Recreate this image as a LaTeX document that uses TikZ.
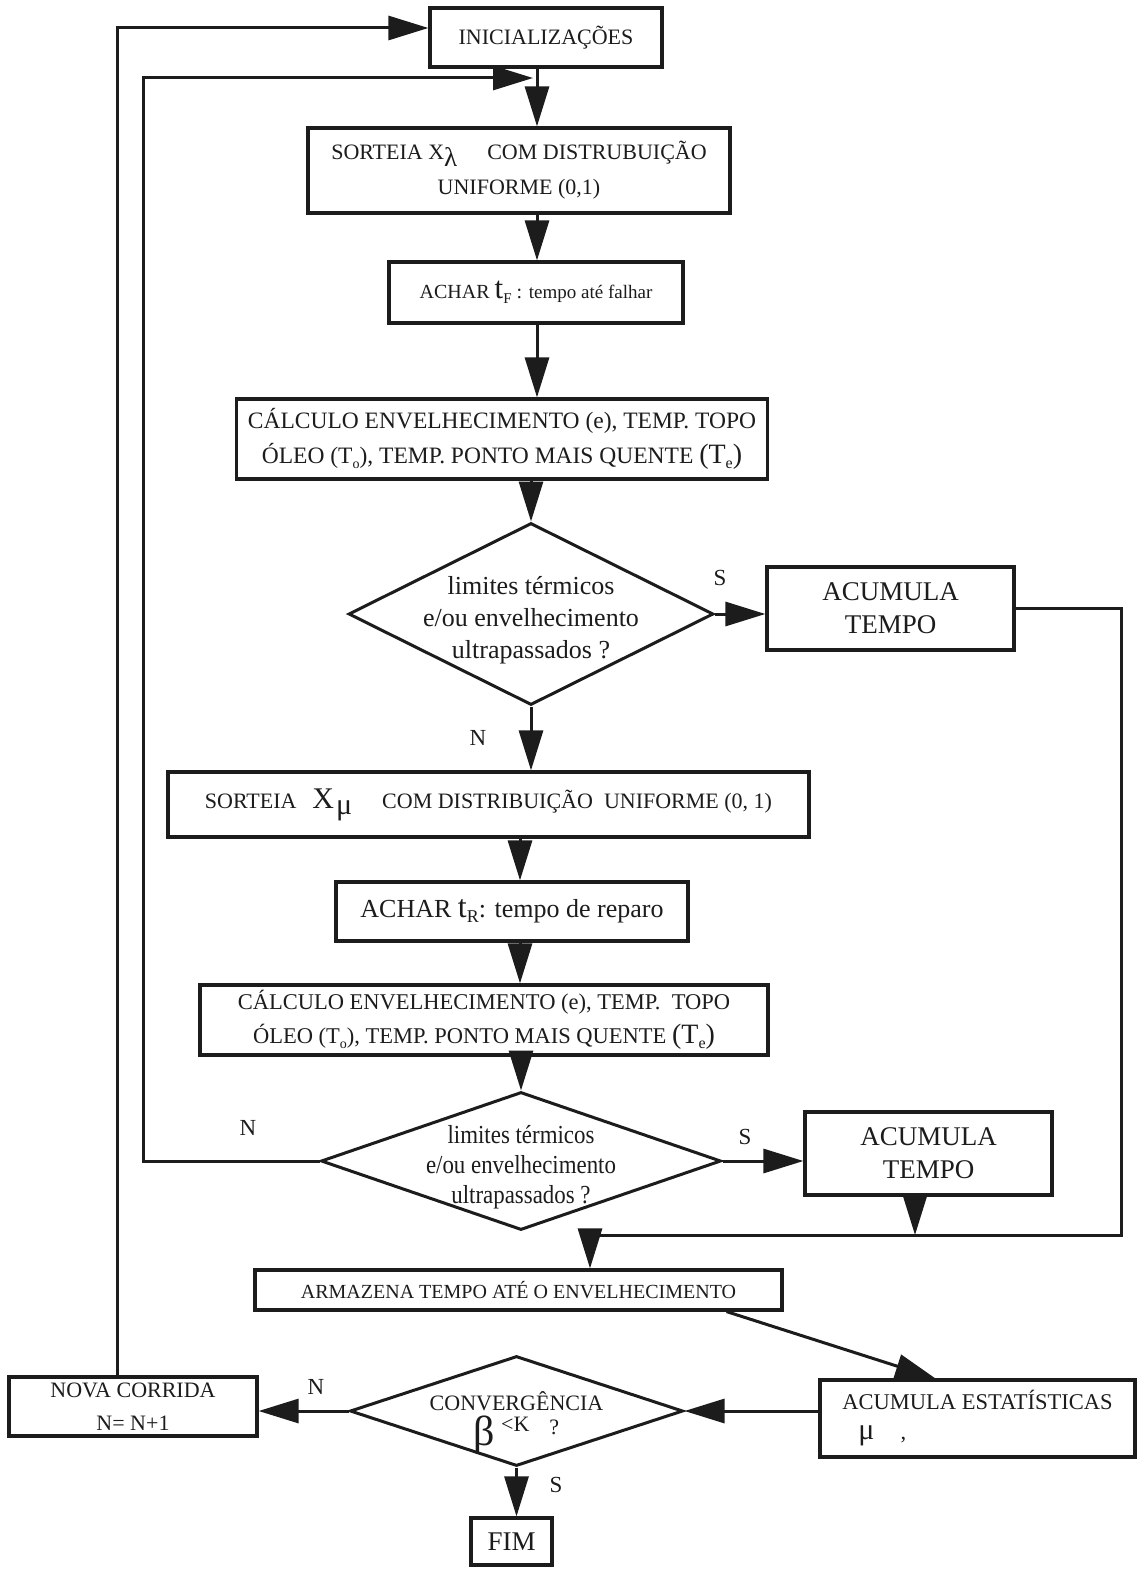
\documentclass[tikz,border=0pt]{standalone}
\usepackage{fontspec}
\setmainfont{Liberation Serif}
\newfontfamily\narrowserif[FakeStretch=0.88]{Liberation Serif}
\usetikzlibrary{shapes.geometric,arrows.meta,calc}
\definecolor{ink}{HTML}{1C1C1C}
\newcommand{\fsz}[2]{\fontsize{#1}{#2}\selectfont}

\begin{document}
\begin{tikzpicture}[x=1pt,y=-1pt,
  box/.style={draw=ink, line width=3.2pt, inner sep=0pt, align=center, text=ink},
  dia/.style={diamond, draw=ink, line width=3pt, inner sep=0pt},
  arr/.style={draw=ink, line width=3pt, -{Triangle[length=40pt,width=24pt]}},
  link/.style={draw=ink, line width=3pt},
  lbl/.style={text=ink, inner sep=0pt, font=\fsz{23}{23}}]

\fill[white] (0,0) rectangle (1136,1570);
\useasboundingbox (0,0) rectangle (1136,1570);

% ---- process boxes ----
\node[box, minimum width=232pt, minimum height=59pt, font=\fsz{22}{26}] (init) at (546,37.5) {INICIALIZAÇÕES};

\node[box, minimum width=422pt, minimum height=85pt, font=\fsz{22}{35}] (sortL) at (519,170.5)
  {SORTEIA X\raisebox{-7pt}{\fsz{27}{27}λ}\hspace{30pt}COM DISTRUBUIÇÃO\\UNIFORME (0,1)};

\node[box, minimum width=294pt, minimum height=61pt, font=\fsz{20}{24}] (achF) at (536,292.5)
  {ACHAR {\fsz{31}{31}t}\raisebox{-5pt}{\fsz{15}{15}F} : {\fsz{19}{22}tempo até falhar}};

\node[box, minimum width=531pt, minimum height=80pt, font=\fsz{23.5}{35}] (calc1) at (502,439)
  {CÁLCULO ENVELHECIMENTO (e), TEMP. TOPO\\
   ÓLEO (T\raisebox{-5pt}{\fsz{14}{14}o}), TEMP. PONTO MAIS QUENTE {\fsz{28}{28}(T\raisebox{-5pt}{\fsz{16}{16}e})}};

\node[dia, minimum width=365pt, minimum height=182pt,
  label={[text=ink, align=center, font=\fsz{26}{32}, yshift=-6pt]center:{limites térmicos\\e/ou envelhecimento\\ultrapassados ?}}]
  (d1) at (531,614) {};

\node[box, minimum width=247pt, minimum height=83pt, font=\fsz{27}{33}] (acum1) at (890.5,608.5) {ACUMULA\\TEMPO};

\node[box, minimum width=641pt, minimum height=65pt, font=\fsz{22}{26}] (sortM) at (488.5,804.5)
  {SORTEIA\hspace{16pt}{\fsz{30}{30}X\hspace{2pt}\raisebox{-6pt}{μ}}\hspace{30pt}COM DISTRIBUIÇÃO\ \ UNIFORME (0, 1)};

\node[box, minimum width=352pt, minimum height=59pt, font=\fsz{26}{30}] (achR) at (512,911.5)
  {ACHAR {\fsz{32}{32}t}\raisebox{-5pt}{\fsz{18}{18}R}: tempo de reparo};

\node[box, minimum width=568pt, minimum height=70pt, font=\fsz{22.5}{34}] (calc2) at (484,1020)
  {CÁLCULO ENVELHECIMENTO (e), TEMP.\ \ TOPO\\
   ÓLEO (T\raisebox{-5pt}{\fsz{14}{14}o}), TEMP. PONTO MAIS QUENTE {\fsz{28}{28}(T\raisebox{-5pt}{\fsz{16}{16}e})}};

\node[dia, minimum width=400pt, minimum height=138pt,
  label={[text=ink, align=center, font=\narrowserif\fsz{26}{30}, yshift=-6pt]center:{limites térmicos\\e/ou envelhecimento\\ultrapassados ?}}]
  (d2) at (521,1161) {};

\node[box, minimum width=247pt, minimum height=83pt, font=\fsz{27}{33}] (acum2) at (928.5,1153.5) {ACUMULA\\TEMPO};

\node[box, minimum width=527pt, minimum height=40pt, font=\fsz{20}{24}] (armaz) at (518.5,1290)
  {ARMAZENA TEMPO ATÉ O ENVELHECIMENTO};

\node[box, minimum width=315pt, minimum height=77pt, align=left, font=\fsz{22.5}{30}] (acumE) at (977.5,1418.5)
  {ACUMULA ESTATÍSTICAS\\\hspace{16pt}{\fsz{30}{30}μ}\hspace{26pt},};

\node[dia, minimum width=333pt, minimum height=110pt,
  label={[text=ink, align=center, font=\fsz{22}{24}, yshift=-2pt]center:{CONVERGÊNCIA\\%
    \smash{\raisebox{-11pt}{\fsz{42}{42}β}}\hspace{6pt}\raisebox{3pt}{<K}\hspace{20pt}?}}]
  (d3) at (516.5,1411) {};

\node[box, minimum width=248pt, minimum height=59pt, font=\fsz{22}{33}] (nova) at (133,1406.5) {NOVA CORRIDA\\N= N+1};

\node[box, minimum width=81pt, minimum height=47pt, font=\fsz{27}{30}] (fim) at (511.5,1541.5) {FIM};

% ---- branch labels ----
\node[lbl] (s1) at (720,578) {S};
\node[lbl] (n1) at (478,738) {N};
\node[lbl] (n2) at (248,1128) {N};
\node[lbl] (s2) at (745,1137) {S};
\node[lbl] (n3) at (316,1387) {N};
\node[lbl] (s3) at (556,1485) {S};

% ---- routing points ----
\coordinate (up) at (537,0);
\coordinate (lo) at (520,0);
\coordinate (l1) at (117,28);
\coordinate (l2b) at (143,1161);
\coordinate (l2t) at (143,78);
\coordinate (m2) at (533,78);
\coordinate (jr) at (1121,1235);
\coordinate (jm) at (915,1235);
\coordinate (jl) at (590,1235);

% ---- main column ----
\draw[arr] (init.south -| up) -- (sortL.north -| up);
\draw[arr] (sortL.south -| up) -- (achF.north -| up);
\draw[arr] (achF.south -| up) -- (calc1.north -| up);
\draw[arr] (calc1.south -| d1.north) -- (d1.north);
\draw[arr] (d1.east) -- (d1.east -| acum1.west);
\draw[arr] (d1.south) -- (d1.south |- sortM.north);
\draw[arr] (sortM.south -| lo) -- (achR.north -| lo);
\draw[arr] (achR.south -| lo) -- (calc2.north -| lo);
\draw[arr] (calc2.south -| d2.north) -- (d2.north);
\draw[arr] (d2.east) -- (d2.east -| acum2.west);

% ---- collecting both ACUMULA TEMPO boxes ----
\draw[link] (acum1.east) -| (jr) -- (jl);
\draw[arr] (acum2.south -| jm) -- (jm);
\draw[arr] (jl) -- (jl |- armaz.north);

% ---- statistics and convergence ----
\draw[arr] ($(armaz.south east)+(-57,0)$) -- ($(acumE.north west)+(117,0)$);
\draw[arr] (acumE.west |- d3.east) -- (d3.east);
\draw[arr] (d3.west) -- (d3.west -| nova.east);
\draw[arr] (d3.south) -- (d3.south |- fim.north);

% ---- feedback loops ----
\draw[arr] (d2.west) -- (l2b) -- (l2t) -- (m2);
\draw[arr] (l1 |- nova.north) -- (l1) -- (l1 -| init.west);

\end{tikzpicture}
\end{document}
